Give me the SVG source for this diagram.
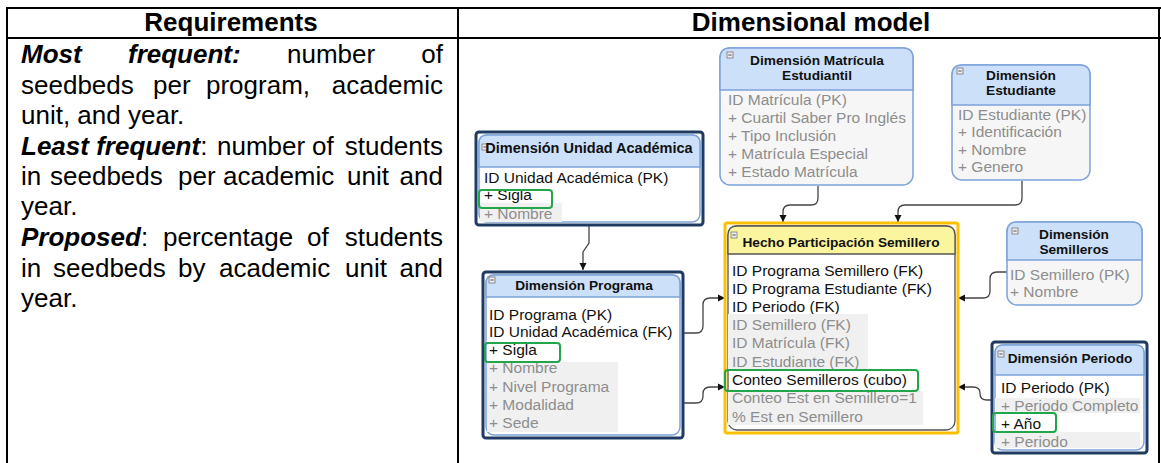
<svg xmlns="http://www.w3.org/2000/svg" width="1161" height="463" viewBox="0 0 1161 463">
<style>
text{font-family:"Liberation Sans",Arial,sans-serif}
.th{font-size:26px;font-weight:bold;text-anchor:middle;fill:#000}
.bt{font-size:26px;fill:#000}
.bi{font-size:26px;fill:#000;font-weight:bold;font-style:italic}
.e{text-anchor:end}
.tl{stroke:#000;stroke-width:2;fill:none}
.nh{font-size:13.7px;font-weight:bold;fill:#111;text-anchor:middle}
.nb{font-size:15.5px;fill:#111}
.ng{font-size:15.5px;fill:#8d8d8d}
.node{fill:#f6f6f6;stroke:#7ba3da;stroke-width:1.5}
.nodew{fill:#fff;stroke:#7ba3da;stroke-width:1.5}
.hdr{fill:#cce0fa;stroke:#7ba3da;stroke-width:1.5}
.sel{fill:none;stroke:#1f3a63;stroke-width:3}
.band{fill:#f0f0f0}
.grn{fill:none;stroke:#21a64a;stroke-width:2}
.ico{fill:#eee;stroke:#777;stroke-width:0.8}
.con{fill:none;stroke:#444;stroke-width:1.3}
</style>
<defs>
<marker id="arr" markerWidth="8" markerHeight="8" refX="7" refY="4" orient="auto" markerUnits="userSpaceOnUse">
<path d="M0,0.5 L7,4 L0,7.5 Z" fill="#111"/>
</marker>
<g id="minus"><rect class="ico" x="0" y="0" width="6" height="6"/><line x1="1.3" y1="3" x2="4.7" y2="3" stroke="#444" stroke-width="0.9"/></g>
</defs>

<g id="table">
<line class="tl" x1="6" y1="8" x2="1161" y2="8"/>
<line class="tl" x1="6" y1="38" x2="1161" y2="38"/>
<line class="tl" x1="7" y1="7" x2="7" y2="463"/>
<line class="tl" x1="458" y1="7" x2="458" y2="463"/>
<line class="tl" x1="1159" y1="7" x2="1159" y2="463"/>
<text class="th" x="231" y="31">Requirements</text>
<text class="th" x="811" y="31">Dimensional model</text>
</g>

<g id="requirements">
<text class="bi" x="21" y="63">Most</text>
<text class="bi" x="128" y="63">frequent:</text>
<text class="bt" x="287" y="63">number</text>
<text class="bt e" x="443" y="63">of</text>
<text class="bt" x="21" y="94">seedbeds</text>
<text class="bt" x="153" y="94">per</text>
<text class="bt" x="206" y="94">program,</text>
<text class="bt e" x="443" y="94">academic</text>
<text class="bt" x="21" y="124">unit, and year.</text>
<text class="bt" x="21" y="155"><tspan class="bi">Least frequent</tspan>:</text>
<text class="bt" x="217" y="155">number</text>
<text class="bt" x="312" y="155">of</text>
<text class="bt e" x="443" y="155">students</text>
<text class="bt" x="21" y="185">in</text>
<text class="bt" x="50" y="185">seedbeds</text>
<text class="bt" x="178" y="185">per</text>
<text class="bt" x="223" y="185">academic</text>
<text class="bt" x="347" y="185">unit</text>
<text class="bt e" x="443" y="185">and</text>
<text class="bt" x="21" y="215">year.</text>
<text class="bt" x="21" y="246"><tspan class="bi">Proposed</tspan>:</text>
<text class="bt" x="163" y="246">percentage</text>
<text class="bt" x="307" y="246">of</text>
<text class="bt e" x="443" y="246">students</text>
<text class="bt" x="21" y="277">in</text>
<text class="bt" x="53" y="277">seedbeds</text>
<text class="bt" x="178" y="277">by</text>
<text class="bt" x="219" y="277">academic</text>
<text class="bt" x="345" y="277">unit</text>
<text class="bt e" x="443" y="277">and</text>
<text class="bt" x="21" y="307">year.</text>
</g>

<g id="connectors">
<path class="con" d="M818,186 V198 Q818,205 811,205 H790 Q783,205 783,212 V222" marker-end="url(#arr)"/>
<path class="con" d="M1022,181 V198 Q1022,205 1015,205 H905 Q898,205 898,212 V222" marker-end="url(#arr)"/>
<path class="con" d="M589,226 V243 L583,252 V270" marker-end="url(#arr)"/>
<path class="con" d="M684,333 H696 Q703,333 703,326 V305 Q703,298 710,298 H725" marker-end="url(#arr)"/>
<path class="con" d="M684,403 H696 Q703,403 703,396 V394 Q703,387 710,387 H725" marker-end="url(#arr)"/>
<path class="con" d="M1007,272 H997 Q990,272 990,279 V291 Q990,298 983,298 H958" marker-end="url(#arr)"/>
<path class="con" d="M992,400 H987 Q980,400 980,394 V393 Q980,387 973,387 H958" marker-end="url(#arr)"/>
</g>

<g id="dim-matricula">
<rect class="node" x="720" y="48" width="193" height="137" rx="10"/>
<path class="hdr" d="M720,90 V58 Q720,48 730,48 H903 Q913,48 913,58 V90 Z"/>
<use href="#minus" x="727" y="52"/>
<text class="nh" x="817" y="65">Dimensión Matrícula</text>
<text class="nh" x="817" y="80">Estudiantil</text>
<text class="ng" x="728" y="105">ID Matrícula (PK)</text>
<text class="ng" x="728" y="123">+ Cuartil Saber Pro Inglés</text>
<text class="ng" x="728" y="141">+ Tipo Inclusión</text>
<text class="ng" x="728" y="159">+ Matrícula Especial</text>
<text class="ng" x="728" y="177">+ Estado Matrícula</text>
</g>

<g id="dim-estudiante">
<rect class="node" x="952" y="65" width="138" height="115" rx="10"/>
<path class="hdr" d="M952,105 V75 Q952,65 962,65 H1080 Q1090,65 1090,75 V105 Z"/>
<use href="#minus" x="957" y="68"/>
<text class="nh" x="1021" y="80">Dimensión</text>
<text class="nh" x="1021" y="95">Estudiante</text>
<text class="ng" x="958" y="120">ID Estudiante (PK)</text>
<text class="ng" x="958" y="137">+ Identificación</text>
<text class="ng" x="958" y="155">+ Nombre</text>
<text class="ng" x="958" y="172">+ Genero</text>
</g>

<g id="dim-unidad">
<rect class="nodew" x="479" y="135" width="221" height="87" rx="8"/>
<path class="hdr" d="M479,167 V143 Q479,135 487,135 H692 Q700,135 700,143 V167 Z"/>
<rect class="sel" x="476" y="132" width="227" height="93" rx="3"/>
<use href="#minus" x="482" y="144"/>
<text class="nh" x="589" y="153" style="font-size:14.5px">Dimensión Unidad Académica</text>
<text class="nb" x="484" y="183">ID Unidad Académica (PK)</text>
<rect class="band" x="480" y="203" width="82" height="19"/>
<text class="nb" x="484" y="200">+ Sigla</text>
<text class="ng" x="484" y="219">+ Nombre</text>
<rect class="grn" x="479" y="190" width="73" height="18" rx="3"/>
</g>

<g id="dim-programa">
<rect class="nodew" x="486" y="275" width="194" height="160" rx="8"/>
<path class="hdr" d="M486,297 V283 Q486,275 494,275 H672 Q680,275 680,283 V297 Z"/>
<rect class="sel" x="483" y="272" width="200" height="166" rx="3"/>
<use href="#minus" x="489" y="277"/>
<text class="nh" x="584" y="290">Dimensión Programa</text>
<text class="nb" x="489" y="320">ID Programa (PK)</text>
<text class="nb" x="489" y="337">ID Unidad Académica (FK)</text>
<text class="nb" x="489" y="355">+ Sigla</text>
<rect class="band" x="487" y="362" width="131" height="70"/>
<text class="ng" x="489" y="373">+ Nombre</text>
<text class="ng" x="489" y="392">+ Nivel Programa</text>
<text class="ng" x="489" y="410">+ Modalidad</text>
<text class="ng" x="489" y="428">+ Sede</text>
<rect class="grn" x="485" y="343" width="75" height="19" rx="3"/>
</g>

<g id="hecho">
<rect x="728" y="226" width="227" height="204" rx="9" fill="#fff" stroke="#555" stroke-width="1.3"/>
<path d="M728,254 V235 Q728,226 737,226 H946 Q955,226 955,235 V254 Z" fill="#faf59e" stroke="#555" stroke-width="1.3"/>
<rect x="725" y="223" width="233" height="210" rx="2" fill="none" stroke="#ffc000" stroke-width="3"/>
<use href="#minus" x="731" y="232"/>
<text class="nh" x="841" y="247">Hecho Participación Semillero</text>
<text class="nb" x="732" y="276">ID Programa Semillero (FK)</text>
<text class="nb" x="732" y="294">ID Programa Estudiante (FK)</text>
<text class="nb" x="732" y="312">ID Periodo (FK)</text>
<rect class="band" x="728" y="314" width="140" height="56"/>
<text class="ng" x="732" y="330">ID Semillero (FK)</text>
<text class="ng" x="732" y="348">ID Matrícula (FK)</text>
<text class="ng" x="732" y="367">ID Estudiante (FK)</text>
<text class="nb" x="732" y="385">Conteo Semilleros (cubo)</text>
<rect class="band" x="728" y="391" width="195" height="34"/>
<text class="ng" x="732" y="403">Conteo Est en Semillero=1</text>
<text class="ng" x="732" y="422">% Est en Semillero</text>
<rect class="grn" x="725" y="370" width="193" height="21" rx="3"/>
</g>

<g id="dim-semilleros">
<rect class="node" x="1007" y="222" width="135" height="83" rx="10"/>
<path class="hdr" d="M1007,260 V232 Q1007,222 1017,222 H1132 Q1142,222 1142,232 V260 Z"/>
<use href="#minus" x="1012" y="228"/>
<text class="nh" x="1074" y="239">Dimensión</text>
<text class="nh" x="1074" y="254">Semilleros</text>
<text class="ng" x="1010" y="280">ID Semillero (PK)</text>
<text class="ng" x="1010" y="297">+ Nombre</text>
</g>

<g id="dim-periodo">
<rect class="nodew" x="995" y="345" width="149" height="105" rx="8"/>
<path class="hdr" d="M995,375 V353 Q995,345 1003,345 H1136 Q1144,345 1144,353 V375 Z"/>
<rect class="sel" x="992" y="342" width="155" height="111" rx="3"/>
<use href="#minus" x="998" y="351"/>
<text class="nh" x="1070" y="363">Dimensión Periodo</text>
<text class="nb" x="1001" y="393">ID Periodo (PK)</text>
<rect class="band" x="995" y="398" width="145" height="15"/>
<text class="ng" x="1001" y="411">+ Periodo Completo</text>
<text class="nb" x="1001" y="429">+ Año</text>
<rect class="band" x="995" y="432" width="145" height="16"/>
<text class="ng" x="1001" y="447">+ Periodo</text>
<rect class="grn" x="993" y="413" width="63" height="19" rx="3"/>
</g>
</svg>
